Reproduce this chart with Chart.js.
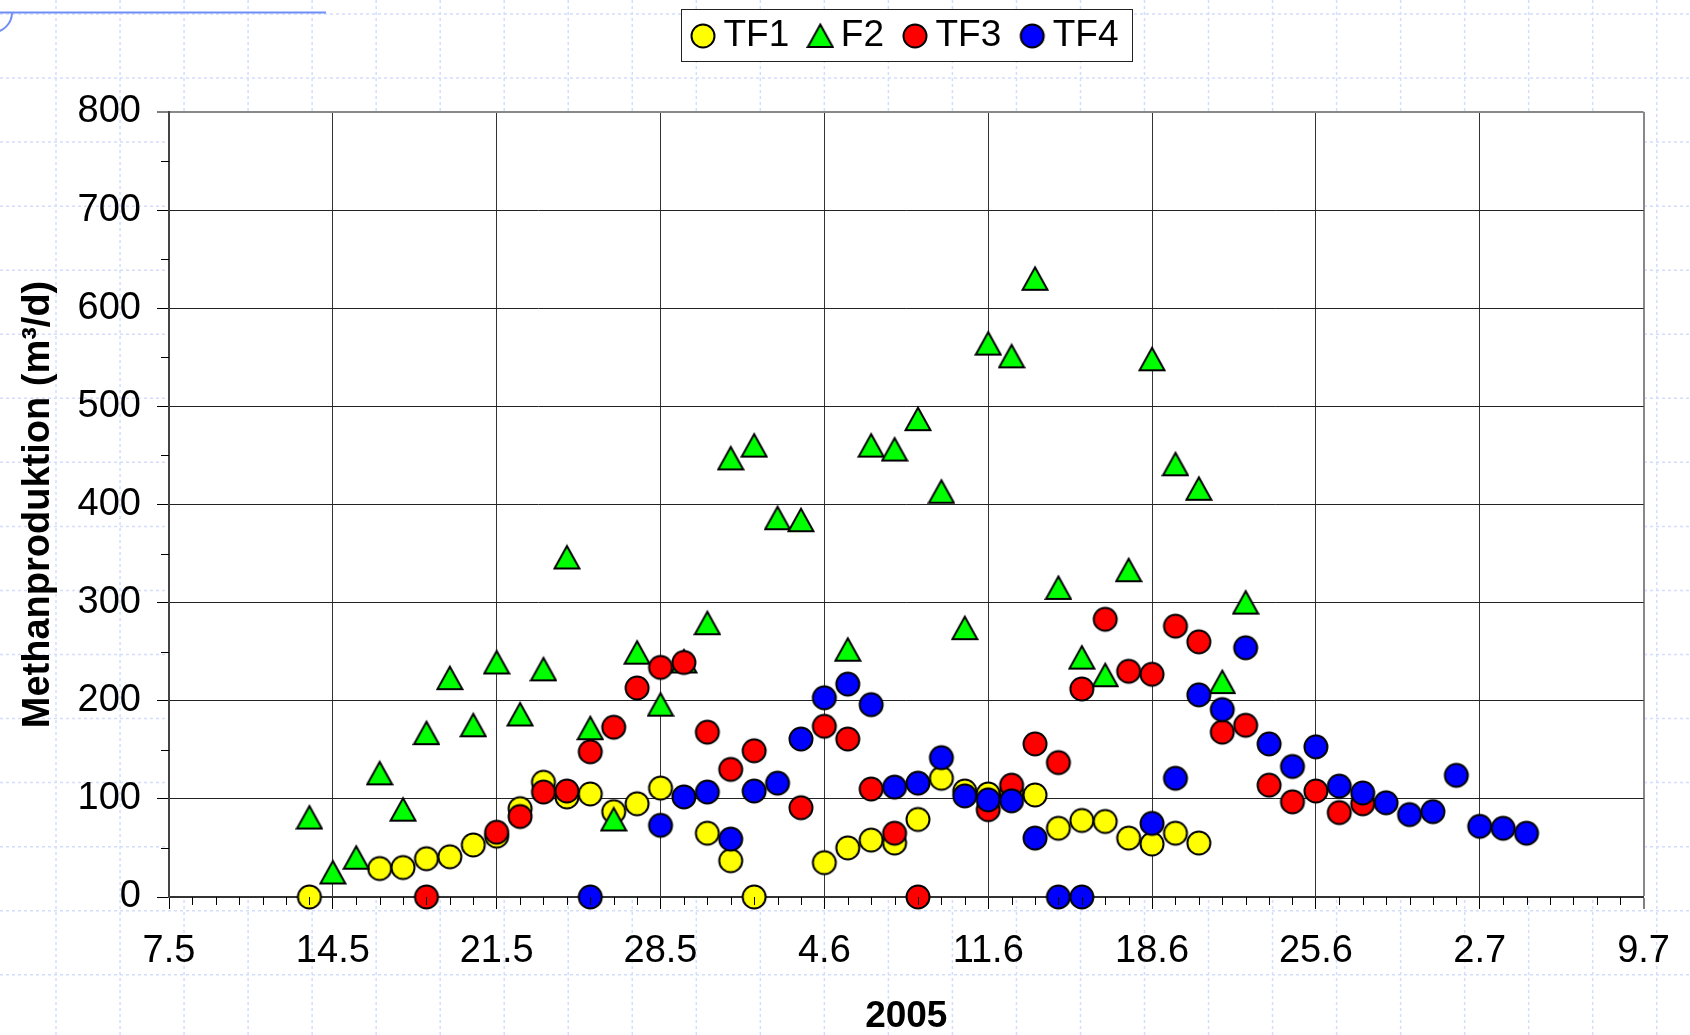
<!DOCTYPE html>
<html>
<head>
<meta charset="utf-8">
<script src="https://cdn.jsdelivr.net/npm/chart.js"></script>
<style>
  html, body { margin: 0; padding: 0; background: #fff; }
  canvas { display: block; }
</style>
</head>
<body>
<canvas id="methanChart" width="1690" height="1035"></canvas>
<script>
// x values are days counted from 7.5.2005
var xTickLabels = ['7.5', '14.5', '21.5', '28.5', '4.6', '11.6', '18.6', '25.6', '2.7', '9.7'];

var tf1Days   = [6, 9, 10, 11, 12, 13, 14, 15, 16, 17, 18, 19, 20, 21, 23, 24, 25, 28, 29, 30, 31, 32, 33, 34, 35, 36, 37, 38, 39, 40, 41, 42, 43, 44];
var tf1Values = [0, 29, 30, 39, 41, 53, 62, 90, 117, 102, 105, 87, 95, 111, 65, 37, 0, 35, 50, 58, 55, 79, 121, 108, 105, 107, 104, 70, 78, 77, 60, 54, 65, 55];

var f2Days   = [6, 7, 8, 9, 10, 11, 12, 13, 14, 15, 16, 17, 18, 19, 20, 21, 22, 23, 24, 25, 26, 27, 29, 30, 31, 32, 33, 34, 35, 36, 37, 38, 39, 40, 41, 42, 43, 44, 45, 46];
var f2Values = [81, 25, 40, 126, 89, 167, 223, 175, 239, 186, 232, 346, 172, 79, 249, 196, 240, 279, 447, 460, 386, 384, 252, 460, 456, 487, 413, 274, 564, 551, 630, 315, 244, 226, 333, 548, 441, 416, 219, 300];

var tf3Days   = [11, 14, 15, 16, 17, 18, 19, 20, 21, 22, 23, 24, 25, 27, 28, 29, 30, 31, 32, 35, 36, 37, 38, 39, 40, 41, 42, 43, 44, 45, 46, 47, 48, 49, 50, 51];
var tf3Values = [0, 66, 82, 107, 108, 148, 173, 213, 234, 239, 168, 130, 149, 91, 174, 161, 110, 65, 0, 89, 114, 156, 137, 212, 283, 230, 227, 276, 260, 168, 175, 114, 97, 108, 86, 95];

var tf4Days   = [18, 21, 22, 23, 24, 25, 26, 27, 28, 29, 30, 31, 32, 33, 34, 35, 36, 37, 38, 39, 42, 43, 44, 45, 46, 47, 48, 49, 50, 51, 52, 53, 54, 55, 56, 57, 58];
var tf4Values = [0, 73, 102, 107, 59, 108, 116, 161, 203, 217, 196, 112, 116, 142, 103, 99, 98, 60, 0, 0, 75, 121, 206, 191, 254, 156, 133, 153, 113, 106, 96, 84, 87, 124, 72, 70, 65];

var FONT = '"Liberation Sans", Arial, sans-serif';
Chart.defaults.font.family = FONT;
Chart.defaults.color = '#000';

// marker images, excel style (black outline)
function makeMarker(shape, fill) {
    var c = document.createElement('canvas');
    c.width = 28; c.height = 28;
    var g = c.getContext('2d');
    g.fillStyle = fill;
    g.strokeStyle = '#000';
    g.lineWidth = 2;
    g.beginPath();
    if (shape === 'circle') {
        g.arc(14, 14, 11.5, 0, Math.PI * 2);
    } else {
        g.moveTo(14, 2.5);
        g.lineTo(26.5, 25);
        g.lineTo(1.5, 25);
        g.closePath();
    }
    g.fill();
    g.stroke();
    return c;
}

function points(days, values) {
    return days.map(function (d, i) { return { x: d, y: values[i] }; });
}

// slide background with the dashed grid, white plot area
var slideBackground = {
    id: 'slideBackground',
    beforeDraw: function (chart) {
        var g = chart.ctx, w = chart.width, h = chart.height, a = chart.chartArea;
        g.save();
        g.fillStyle = '#fff';
        g.fillRect(0, 0, w, h);
        g.strokeStyle = '#d3ddff';
        g.lineWidth = 1.5;
        g.setLineDash([3, 3]);
        g.beginPath();
        for (var x = 56; x < w; x += 64.03) { g.moveTo(x, 0); g.lineTo(x, h); }
        for (var y = 14; y < h; y += 64.05) { g.moveTo(0, y); g.lineTo(w, y); }
        g.stroke();
        g.setLineDash([]);
        g.strokeStyle = '#6f8ff7';
        g.lineWidth = 2;
        g.beginPath();
        g.moveTo(0, 12.5);
        g.lineTo(326, 12.5);
        g.stroke();
        g.beginPath();
        g.arc(-8, 12.5, 20, 0, Math.PI / 2);
        g.stroke();
        g.fillStyle = '#fff';
        g.fillRect(a.left, a.top, a.right - a.left, a.bottom - a.top);
        g.restore();
    }
};

// small ticks: daily on x, every 50 on y
var minorTicks = {
    id: 'minorTicks',
    afterDraw: function (chart) {
        var g = chart.ctx, xs = chart.scales.x, ys = chart.scales.y, a = chart.chartArea;
        g.save();
        g.strokeStyle = '#000';
        g.lineWidth = 1;
        g.beginPath();
        for (var d = xs.min; d <= xs.max; d++) {
            if (d % 7 === 0) continue;
            var px = Math.round(xs.getPixelForValue(d)) + 0.5;
            g.moveTo(px, a.bottom);
            g.lineTo(px, a.bottom + 8);
        }
        for (var v = 50; v < ys.max; v += 100) {
            var py = Math.round(ys.getPixelForValue(v)) + 0.5;
            g.moveTo(a.left - 8, py);
            g.lineTo(a.left, py);
        }
        g.stroke();
        g.restore();
    }
};

// boxed legend above the plot
var boxLegend = {
    id: 'boxLegend',
    afterDraw: function (chart) {
        var g = chart.ctx, a = chart.chartArea, sets = chart.data.datasets;
        g.save();
        g.font = '37px ' + FONT;
        var gap = 20.5, spacing = 31, padL = 22, padR = 13;
        var widths = sets.map(function (ds) { return g.measureText(ds.label).width; });
        var total = padL + padR;
        widths.forEach(function (w, i) { total += gap + w + (i < widths.length - 1 ? spacing : 0); });
        var left = Math.round((a.left + a.right) / 2 - total / 2), top = 9, height = 52, cy = 36;
        g.fillStyle = '#fff';
        g.fillRect(left, top, total, height);
        g.strokeStyle = '#222';
        g.lineWidth = 1;
        g.strokeRect(left + 0.5, top + 0.5, Math.round(total), height);
        g.textBaseline = 'middle';
        g.fillStyle = '#000';
        var x = left + padL;
        sets.forEach(function (ds, i) {
            var img = ds.pointStyle;
            g.drawImage(img, x - img.width / 2, cy - img.height / 2);
            g.fillText(ds.label, x + gap, cy);
            x += gap + widths[i] + spacing;
        });
        g.restore();
    }
};

var ctx = document.getElementById('methanChart').getContext('2d');
var methanChart = new Chart(ctx, {
    type: 'scatter',
    data: {
        datasets: [
            { label: 'TF1', data: points(tf1Days, tf1Values), pointStyle: makeMarker('circle', '#ffff00'), order: 4 },
            { label: 'F2', data: points(f2Days, f2Values), pointStyle: makeMarker('triangle', '#00ff00'), order: 3 },
            { label: 'TF3', data: points(tf3Days, tf3Values), pointStyle: makeMarker('circle', '#ff0000'), order: 2 },
            { label: 'TF4', data: points(tf4Days, tf4Values), pointStyle: makeMarker('circle', '#0000ff'), order: 1 }
        ]
    },
    options: {
        responsive: false,
        animation: false,
        events: [],
        clip: false,
        elements: { point: { radius: 12 } },
        layout: { padding: { top: 112, right: 45, left: 0, bottom: 0 } },
        plugins: {
            legend: { display: false },
            tooltip: { enabled: false }
        },
        scales: {
            x: {
                type: 'linear',
                min: 0,
                max: 63,
                afterFit: function (s) { s.height = 138; },
                ticks: {
                    stepSize: 7,
                    autoSkip: false,
                    maxRotation: 0,
                    padding: 20,
                    font: { size: 38 },
                    callback: function (value) { return xTickLabels[Math.round(value / 7)]; }
                },
                grid: {
                    color: function (c) { return c.tick && c.tick.value === 63 ? '#888' : '#333'; },
                    lineWidth: function (c) { return c.tick && c.tick.value === 63 ? 2 : 1; },
                    tickColor: '#000',
                    tickLength: 12,
                    tickWidth: 1
                },
                border: { color: '#333', width: 2 },
                title: {
                    display: true,
                    text: '2005',
                    padding: 0,
                    font: { size: 37, weight: 'bold', lineHeight: 1 }
                }
            },
            y: {
                min: 0,
                max: 800,
                afterFit: function (s) { s.width = 169; },
                ticks: {
                    stepSize: 100,
                    padding: 16,
                    font: { size: 38 }
                },
                grid: {
                    color: function (c) { return c.tick && c.tick.value === 800 ? '#888' : '#222'; },
                    lineWidth: function (c) { return c.tick && c.tick.value === 800 ? 2 : 1; },
                    tickColor: '#000',
                    tickLength: 12,
                    tickWidth: 1
                },
                border: { color: '#444', width: 2 },
                title: {
                    display: true,
                    text: 'Methanproduktion (m³/d)',
                    padding: { top: 20, bottom: 0 },
                    font: { size: 38, weight: 'bold', lineHeight: 1 }
                }
            }
        }
    },
    plugins: [slideBackground, minorTicks, boxLegend]
});
</script>
</body>
</html>
